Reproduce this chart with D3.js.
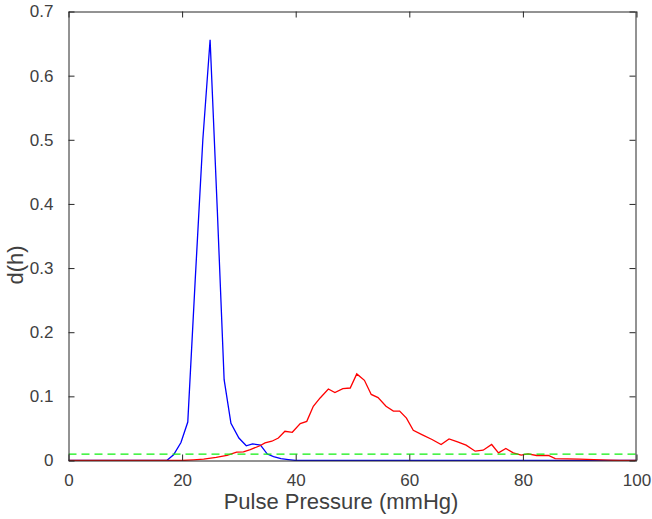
<!DOCTYPE html>
<html>
<head>
<meta charset="utf-8">
<script src="https://cdn.jsdelivr.net/npm/d3@7"></script>
<style>
  body { margin: 0; background: #fff; }
  svg { display: block; }
  text { font-family: "Liberation Sans", Arial, Helvetica, sans-serif; fill: #404040; }
</style>
</head>
<body>
<svg></svg>
<script>
// data
const blueX = [0, 17.3, 18.5, 19.8, 21.0, 22.3, 23.65, 24.93, 26.2, 27.4, 28.6, 30.0, 31.3, 32.4, 33.8, 35.0, 36.1, 37.4, 38.7, 40, 100]
const blueY = [0, 0, 0.009, 0.028, 0.06, 0.28, 0.50, 0.656, 0.39, 0.126, 0.058, 0.035, 0.023, 0.026, 0.024, 0.010, 0.006, 0.003, 0.0015, 0, 0]

const redX = [0, 20, 22, 23.8, 26, 27.9, 29.6, 30.8, 32.0, 33.7, 34.6, 35.8, 36.95, 38.1, 39.4, 40.8, 41.95, 43.1, 44.3, 45.75, 46.9, 48.3, 49.6, 50.75, 52.1, 53.3, 54.5, 55.9, 57.2, 58.3, 59.5, 60.7, 62.3, 64.0, 65.6, 67.0, 68.5, 70.0, 71.6, 73.0, 74.5, 75.7, 77.0, 78.3, 79.7, 80.9, 82.4, 84.5, 85.7, 90, 95, 97, 100]
const redY = [0, 0, 0.001, 0.0022, 0.005, 0.008, 0.013, 0.0135, 0.017, 0.023, 0.0275, 0.030, 0.035, 0.0456, 0.044, 0.0576, 0.061, 0.0845, 0.0975, 0.1115, 0.106, 0.112, 0.113, 0.135, 0.125, 0.103, 0.098, 0.0845, 0.077, 0.077, 0.066, 0.047, 0.040, 0.0327, 0.025, 0.0337, 0.029, 0.024, 0.0145, 0.016, 0.025, 0.012, 0.0187, 0.012, 0.0085, 0.0104, 0.0078, 0.0078, 0.003, 0.002, 0.0005, 0, 0]

const thresholdY = 0.01

const xTicks = [0, 20, 40, 60, 80, 100]
const yTicks = [0, 0.1, 0.2, 0.3, 0.4, 0.5, 0.6, 0.7]

const width = 652
const height = 519
let marge = {top: 11, bottom: 58, left: 68.5, right: 15.5}
const w = width - marge.left - marge.right
const h = height - marge.top - marge.bottom

const svg = d3.select('svg').attr('width', width).attr('height', height)
let g = svg.append('g').attr('transform', 'translate(' + marge.left + ',' + marge.top + ')')

const x = d3.scaleLinear().domain([0, 100]).range([0, w])
const y = d3.scaleLinear().domain([0, 0.7]).range([h - 0.5, 0.5])

const axisColor = '#262626'
const textColor = '#404040'
const tickLen = 6

// clip so lines stay inside the box
svg.append('defs').append('clipPath').attr('id', 'clip')
    .append('rect').attr('x', 0).attr('y', 0).attr('width', w).attr('height', h)

const line = d3.line()
    .x(function (d) { return x(d[0]) })
    .y(function (d) { return y(d[1]) })

const plot = g.append('g').attr('clip-path', 'url(#clip)')

plot.append('path').datum(d3.zip(blueX, blueY))
    .attr('d', line).attr('fill', 'none').attr('stroke', '#0000ff').attr('stroke-width', 1.3)

plot.append('path').datum(d3.zip(redX, redY))
    .attr('d', line).attr('fill', 'none').attr('stroke', '#ff0000').attr('stroke-width', 1.3)

plot.append('path').datum([[0, thresholdY], [100, thresholdY]])
    .attr('d', line).attr('fill', 'none').attr('stroke', '#11ee11')
    .attr('stroke-width', 1.3).attr('stroke-dasharray', '8,5')

// box + inward ticks (matlab style)
const axisBottom = d3.axisBottom(x).tickValues(xTicks).tickSizeInner(-tickLen).tickSizeOuter(0).tickPadding(13).tickFormat(d3.format('d'))
const axisTop = d3.axisTop(x).tickValues(xTicks).tickSizeInner(-tickLen).tickSizeOuter(0).tickFormat('')
const axisLeft = d3.axisLeft(y).tickValues(yTicks).tickSizeInner(-tickLen).tickSizeOuter(0).tickPadding(15).tickFormat(function (d) { return d === 0 ? '0' : d3.format('.1f')(d) })
const axisRight = d3.axisRight(y).tickValues(yTicks).tickSizeInner(-tickLen).tickSizeOuter(0).tickFormat('')

function style(sel) {
    sel.select('.domain').attr('stroke', axisColor)
    sel.selectAll('.tick line').attr('stroke', axisColor)
    sel.selectAll('.tick text').attr('font-size', 17).attr('fill', textColor)
        .style('font-family', '"Liberation Sans", Arial, sans-serif')
}

g.append('g').attr('transform', 'translate(0,' + (h - 0.5) + ')').call(axisBottom).call(style)
g.append('g').attr('transform', 'translate(0,0.5)').call(axisTop).call(style)
g.append('g').attr('transform', 'translate(0,0)').call(axisLeft).call(style)
g.append('g').attr('transform', 'translate(' + (w - 1) + ',0)').call(axisRight).call(style)

// axis labels
svg.append('text').attr('x', 341).attr('y', 509)
    .attr('text-anchor', 'middle').attr('font-size', 22).text('Pulse Pressure (mmHg)')

svg.append('text').attr('transform', 'translate(23,265) rotate(-90)')
    .attr('text-anchor', 'middle').attr('font-size', 22).text('d(h)')
</script>
</body>
</html>
